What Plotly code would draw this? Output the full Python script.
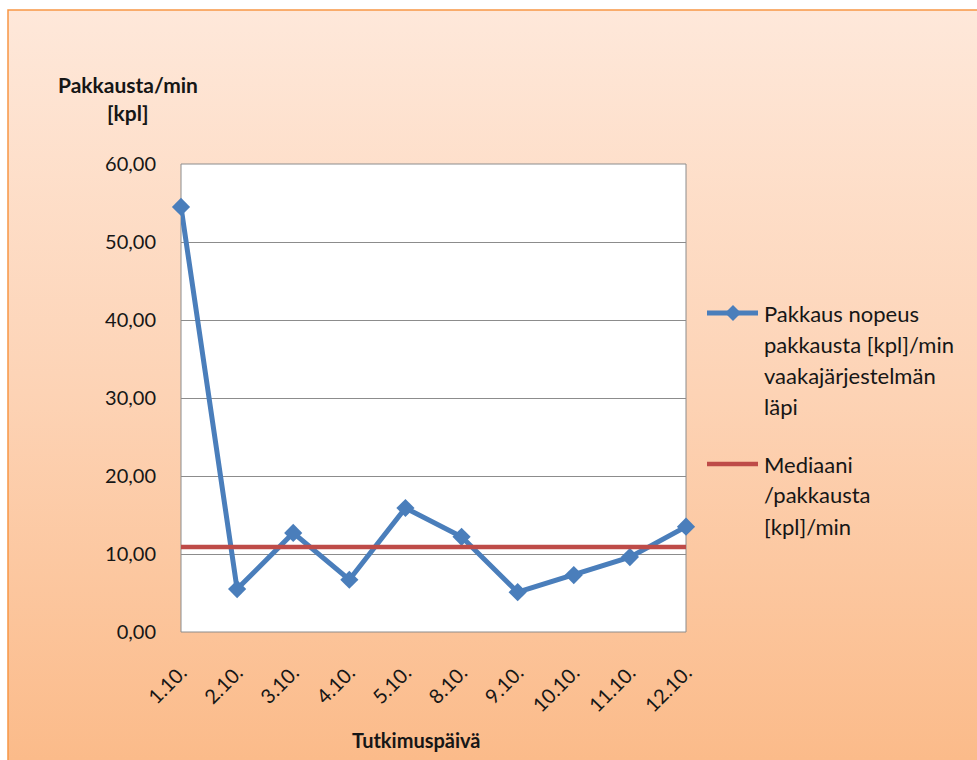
import base64
import plotly.graph_objects as go

# ---------------- data ----------------
days = ["1.10.", "2.10.", "3.10.", "4.10.", "5.10.", "8.10.", "9.10.", "10.10.", "11.10.", "12.10."]
speed = [54.5, 5.5, 12.7, 6.7, 15.9, 12.2, 5.1, 7.3, 9.6, 13.5]
median = [10.9, 10.9, 10.9, 10.9, 10.9, 10.9, 10.9, 10.9, 10.9, 10.9]
y_ticks = [0, 10, 20, 30, 40, 50, 60]
speed_name = ["Pakkaus nopeus", "pakkausta [kpl]/min", "vaakajärjestelmän", "läpi"]
median_name = ["Mediaani", "/pakkausta", "[kpl]/min"]
y_title = ["Pakkausta/min", "[kpl]"]
x_title = "Tutkimuspäivä"

# ---------------- layout geometry (pixels) ----------------
W, H = 977, 760
L, R, T, B = 181, 686, 164, 632
PW, PH = R - L, B - T


def px(x):
    return (x - L) / PW


def py(y):
    return (B - y) / PH


FONT = "Lato, 'DejaVu Sans', sans-serif"
BLUE = "#4a7ebb"
RED = "#be4b48"
TXT = "#161616"

fig = go.Figure()
fig.add_trace(go.Scatter(
    x=days, y=speed, mode="lines+markers", name=" ".join(speed_name),
    line=dict(color=BLUE, width=5),
    marker=dict(symbol="diamond", size=14, color=BLUE),
    cliponaxis=False, showlegend=False,
))
fig.add_trace(go.Scatter(
    x=days, y=median, mode="lines", name=" ".join(median_name),
    line=dict(color=RED, width=4.5),
    cliponaxis=False, showlegend=False,
))

# gradient background (chart area)
svg = (
    '<svg xmlns="http://www.w3.org/2000/svg" width="100" height="100" preserveAspectRatio="none">'
    '<defs><linearGradient id="g" x1="0" y1="0" x2="0" y2="1">'
    '<stop offset="0" stop-color="#fee8da"/>'
    '<stop offset="0.5" stop-color="#fdd3b5"/>'
    '<stop offset="1" stop-color="#fbba88"/>'
    '</linearGradient></defs>'
    '<rect width="100" height="100" fill="url(#g)"/></svg>'
)
src = "data:image/svg+xml;base64," + base64.b64encode(svg.encode()).decode()
ax0, ay0, ax1, ay1 = 8, 10, 990, 775
fig.add_layout_image(dict(
    source=src, xref="paper", yref="paper",
    x=px(ax0), y=py(ay0), sizex=px(ax1) - px(ax0), sizey=py(ay0) - py(ay1),
    xanchor="left", yanchor="top", sizing="stretch", layer="below",
))

shapes = [
    # chart-area border
    dict(type="rect", xref="paper", yref="paper", x0=px(ax0), x1=px(ax1), y0=py(ay1), y1=py(ay0),
         line=dict(color="#f79646", width=1.5), fillcolor="rgba(0,0,0,0)", layer="below"),
    # plot area
    dict(type="rect", xref="paper", yref="paper", x0=0, x1=1, y0=0, y1=1,
         line=dict(color="#8c8c8c", width=1), fillcolor="white", layer="below"),
]

annotations = []
# legend
leg_x0, leg_x1, leg_tx = 707, 758, 762
line_gap = 31
ly1 = 313
shapes.append(dict(type="line", xref="paper", yref="paper", x0=px(leg_x0), x1=px(leg_x1),
                   y0=py(ly1), y1=py(ly1), line=dict(color=BLUE, width=5)))
cx, cy, d = 733, ly1, 8
shapes.append(dict(type="path", xref="paper", yref="paper",
                   path=f"M {px(cx - d)} {py(cy)} L {px(cx)} {py(cy - d)} L {px(cx + d)} {py(cy)} L {px(cx)} {py(cy + d)} Z",
                   fillcolor=BLUE, line=dict(color=BLUE, width=0)))
for i, t in enumerate(speed_name):
    annotations.append(dict(text=t, xref="paper", yref="paper", x=px(leg_tx), y=py(ly1 + i * line_gap),
                            xanchor="left", yanchor="middle", showarrow=False,
                            font=dict(family=FONT, size=22, color=TXT)))
ly2 = 464
shapes.append(dict(type="line", xref="paper", yref="paper", x0=px(leg_x0), x1=px(leg_x1),
                   y0=py(ly2), y1=py(ly2), line=dict(color=RED, width=4.5)))
for i, t in enumerate(median_name):
    annotations.append(dict(text=t, xref="paper", yref="paper", x=px(leg_tx), y=py(ly2 + i * line_gap),
                            xanchor="left", yanchor="middle", showarrow=False,
                            font=dict(family=FONT, size=22, color=TXT)))

# axis titles
for i, t in enumerate(y_title):
    annotations.append(dict(text=f"<b>{t}</b>", xref="paper", yref="paper", x=px(128), y=py(85 + i * 28),
                            xanchor="center", yanchor="middle", showarrow=False,
                            font=dict(family=FONT, size=21, color=TXT)))
annotations.append(dict(text=f"<b>{x_title}</b>", xref="paper", yref="paper", x=px(416), y=py(740),
                        xanchor="center", yanchor="middle", showarrow=False,
                        font=dict(family=FONT, size=20, color=TXT)))

fig.update_layout(
    width=W, height=H,
    margin=dict(l=L, r=W - R, t=T, b=H - B, pad=0),
    paper_bgcolor="white", plot_bgcolor="rgba(0,0,0,0)",
    separators=", ",
    shapes=shapes, annotations=annotations,
    showlegend=False,
)
fig.update_xaxes(
    type="category", range=[0, len(days) - 1], showgrid=False, zeroline=False,
    showline=False, ticks="", tickangle=-45, ticklabelstandoff=24,
    tickfont=dict(family=FONT, size=20, color=TXT),
)
fig.update_yaxes(
    range=[0, 60], tickvals=y_ticks, tickformat=".2f", showgrid=True,
    gridcolor="#8c8c8c", gridwidth=1, zeroline=False, showline=False, ticks="",
    ticklabelstandoff=24,
    tickfont=dict(family=FONT, size=20, color=TXT),
)

fig.write_html("out.html")
